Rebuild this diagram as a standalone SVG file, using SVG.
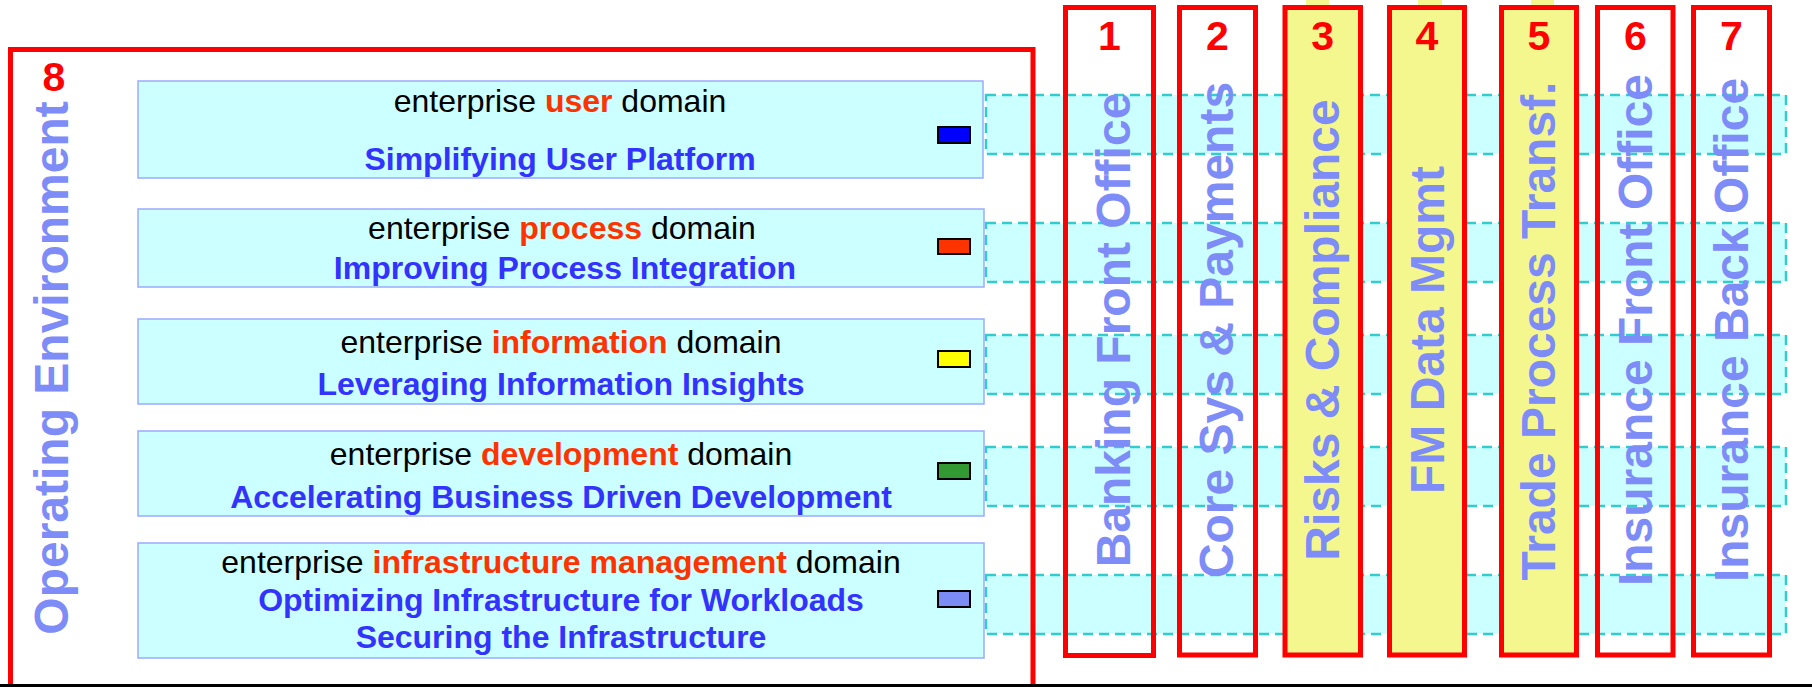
<svg xmlns="http://www.w3.org/2000/svg" width="1812" height="687" viewBox="0 0 1812 687">
  <style>
    text { font-family: "Liberation Sans", Arial, Helvetica, sans-serif; }
    .band { fill: #CCFFFF; stroke: #33CCCC; stroke-width: 2.5; stroke-dasharray: 10 6; }
    .domain { fill: #CCFFFF; stroke: #9AAAFF; stroke-width: 1.5; }
    .swatch { stroke: #000000; stroke-width: 2; }
    .frame { fill: none; stroke: #FF0000; stroke-width: 5; }
    .col { stroke: #FF0000; stroke-width: 5; }
    .col-plain { fill: none; }
    .col-hi { fill: #F4F78E; }
    .tab { fill: #F4F78E; }
    .num { font-size: 41px; font-weight: bold; fill: #FF0000; text-anchor: middle; }
    .vlabel { font-size: 48px; font-weight: bold; fill: #7D8CF7; text-anchor: middle; }
    .l1 { font-size: 32px; fill: #000000; text-anchor: middle; }
    .key { font-weight: bold; fill: #FF3300; }
    .l2 { font-size: 32px; font-weight: bold; fill: #3333FF; text-anchor: middle; }
  </style>

  <!-- domain bands running across the business columns -->
  <g id="connectors">
    <rect class="band" x="986" y="95" width="800" height="59"/>
    <rect class="band" x="986" y="223" width="800" height="59"/>
    <rect class="band" x="986" y="335" width="800" height="59"/>
    <rect class="band" x="986" y="447" width="800" height="59"/>
    <rect class="band" x="986" y="575" width="800" height="59"/>
  </g>

  <!-- operating environment frame -->
  <g id="env">
    <path class="frame" d="M10.5,692 V49.5 H1033 V692"/>
    <text class="num" x="54" y="91">8</text>
    <text transform="translate(68,368) rotate(-90)" style="font-size:48px;font-weight:bold;fill:#7D8CF7;text-anchor:middle">Operating Environment</text>
  </g>

  <!-- enterprise domains -->
  <g id="domain-user">
    <rect class="domain" x="138" y="81" width="845" height="97"/>
    <text class="l1" x="560" y="112">enterprise <tspan class="key">user</tspan> domain</text>
    <text class="l2" x="560" y="170">Simplifying User Platform</text>
    <rect class="swatch" x="938" y="127" width="32" height="16" fill="#0000FF"/>
  </g>
  <g id="domain-process">
    <rect class="domain" x="138" y="209" width="846" height="78"/>
    <text class="l1" x="562" y="239">enterprise <tspan class="key">process</tspan> domain</text>
    <text class="l2" x="565" y="279">Improving Process Integration</text>
    <rect class="swatch" x="938" y="239" width="32" height="15" fill="#FF3300"/>
  </g>
  <g id="domain-information">
    <rect class="domain" x="138" y="319" width="846" height="85"/>
    <text class="l1" x="561" y="353">enterprise <tspan class="key">information</tspan> domain</text>
    <text class="l2" x="561" y="395">Leveraging Information Insights</text>
    <rect class="swatch" x="938" y="351" width="32" height="16" fill="#FFFF00"/>
  </g>
  <g id="domain-development">
    <rect class="domain" x="138" y="431" width="846" height="85"/>
    <text class="l1" x="561" y="465">enterprise <tspan class="key">development</tspan> domain</text>
    <text class="l2" x="561" y="508">Accelerating Business Driven Development</text>
    <rect class="swatch" x="938" y="463" width="32" height="16" fill="#339933"/>
  </g>
  <g id="domain-infrastructure">
    <rect class="domain" x="138" y="543" width="846" height="115"/>
    <text class="l1" x="561" y="573">enterprise <tspan class="key">infrastructure management</tspan> domain</text>
    <text class="l2" x="561" y="611">Optimizing Infrastructure for Workloads</text>
    <text class="l2" x="561" y="648">Securing the Infrastructure</text>
    <rect class="swatch" x="938" y="591" width="32" height="16" fill="#7B8CF5"/>
  </g>

  <!-- business columns -->
  <g id="col-1">
    <rect class="col col-plain" x="1065.5" y="7.5" width="88" height="648"/>
    <text class="num" x="1109.5" y="50">1</text>
    <text class="vlabel" transform="translate(1130,330) rotate(-90)">Banking Front Office</text>
  </g>
  <g id="col-2">
    <rect class="col col-plain" x="1179.5" y="7.5" width="76" height="647.5"/>
    <text class="num" x="1217.5" y="50">2</text>
    <text class="vlabel" transform="translate(1233,330) rotate(-90)">Core Sys &amp; Payments</text>
  </g>
  <g id="col-3">
    <rect class="tab" x="1306" y="0" width="23" height="6"/>
    <rect class="col col-hi" x="1285" y="7.5" width="75.5" height="647.5"/>
    <text class="num" x="1322.75" y="50">3</text>
    <text class="vlabel" transform="translate(1339,330) rotate(-90)">Risks &amp; Compliance</text>
  </g>
  <g id="col-4">
    <rect class="tab" x="1418" y="0" width="24" height="6"/>
    <rect class="col col-hi" x="1389.5" y="7.5" width="75" height="647.5"/>
    <text class="num" x="1427" y="50">4</text>
    <text class="vlabel" transform="translate(1444,330) rotate(-90)">FM Data Mgmt</text>
  </g>
  <g id="col-5">
    <rect class="tab" x="1531" y="0" width="23" height="6"/>
    <rect class="col col-hi" x="1501.5" y="7.5" width="75" height="647.5"/>
    <text class="num" x="1539" y="50">5</text>
    <text class="vlabel" transform="translate(1555,331) rotate(-90)">Trade Process Transf.</text>
  </g>
  <g id="col-6">
    <rect class="col col-plain" x="1597.5" y="7.5" width="75.5" height="647.5"/>
    <text class="num" x="1635.5" y="50">6</text>
    <text class="vlabel" transform="translate(1652,330) rotate(-90)">Insurance Front Office</text>
  </g>
  <g id="col-7">
    <rect class="col col-plain" x="1693.5" y="7.5" width="76" height="647.5"/>
    <text class="num" x="1731.5" y="50">7</text>
    <text class="vlabel" transform="translate(1748,330) rotate(-90)">Insurance Back Office</text>
  </g>

  <!-- base rule -->
  <rect x="0" y="684" width="1812" height="3" fill="#000000"/>
</svg>
